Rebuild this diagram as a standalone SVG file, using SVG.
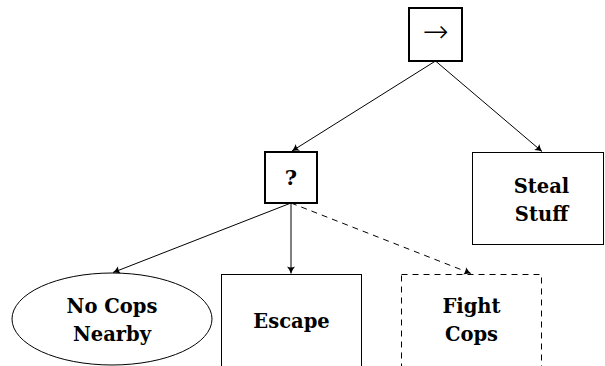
<svg xmlns="http://www.w3.org/2000/svg" width="605" height="366" viewBox="0 0 605 366">
<style>
.ctl{fill:#fff;stroke:#000;stroke-width:2}
.act{fill:#fff;stroke:#000;stroke-width:1}
.dash{stroke-dasharray:6,5}
.lbl{font-family:'DejaVu Serif','Liberation Serif',serif;font-weight:bold;font-size:19.5px;text-anchor:middle;fill:#000}
.edge{fill:none;stroke:#000;stroke-width:1}
</style>
<defs>
<marker id="arr" viewBox="-8 -5 10 10" refX="0" refY="0" markerWidth="10" markerHeight="10" markerUnits="userSpaceOnUse" orient="auto">
<path d="M-7,-4 Q-3,-1 0,0 Q-3,1 -7,4 Q-5,0 -7,-4 Z" fill="#000"/>
</marker>
</defs>
<g id="connectors">
<line class="edge" x1="435.5" y1="61" x2="292" y2="151" marker-end="url(#arr)"/>
<line class="edge" x1="435.5" y1="61" x2="542" y2="151.5" marker-end="url(#arr)"/>
<line class="edge" x1="291" y1="203" x2="113" y2="272.5" marker-end="url(#arr)"/>
<line class="edge" x1="291" y1="203" x2="291" y2="273.5" marker-end="url(#arr)"/>
<line class="edge dash" x1="291" y1="203" x2="471" y2="273.5" marker-end="url(#arr)"/>
</g>
<g id="sequence">
<rect class="ctl" x="409" y="8" width="53" height="53"/>
<text x="435.5" y="42" style="font-family:'DejaVu Sans',sans-serif;font-weight:200;font-size:31px;text-anchor:middle">→</text>
</g>
<g id="fallback">
<rect class="ctl" x="265" y="152" width="52" height="51"/>
<text class="lbl" x="291" y="185" style="font-size:21px">?</text>
</g>
<g id="steal-stuff">
<rect class="act" x="472.5" y="152.5" width="131" height="92"/>
<text class="lbl" x="541.5" y="193">Steal</text>
<text class="lbl" x="541.5" y="221">Stuff</text>
</g>
<g id="no-cops-nearby">
<ellipse class="act" cx="112" cy="319" rx="100" ry="46"/>
<text class="lbl" x="112" y="313">No Cops</text>
<text class="lbl" x="112" y="341">Nearby</text>
</g>
<g id="escape">
<rect class="act" x="221.5" y="274.5" width="140" height="100"/>
<text class="lbl" x="291.5" y="328">Escape</text>
</g>
<g id="fight-cops">
<rect class="act dash" x="401.5" y="274.5" width="140" height="100"/>
<text class="lbl" x="471.5" y="313">Fight</text>
<text class="lbl" x="471.5" y="341">Cops</text>
</g>
</svg>
